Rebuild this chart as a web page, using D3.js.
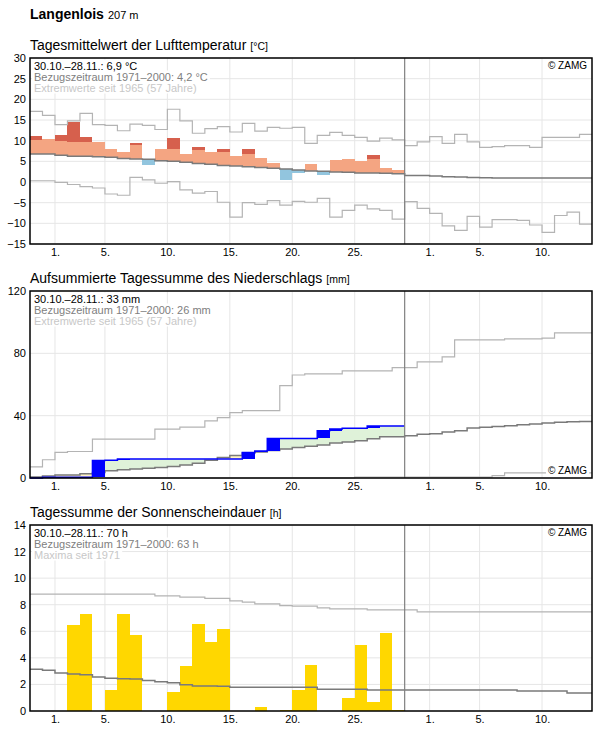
<!DOCTYPE html>
<html lang="de">
<head>
<meta charset="utf-8">
<script src="https://d3js.org/d3.v7.min.js"></script>
<style>
  body { margin: 0; background: #fff; }
  svg { font-family: "Liberation Sans", Arial, sans-serif; display: block; }
</style>
</head>
<body>
<svg width="596" height="729"></svg>
<script>
// 45 Tage ab 30.10. (Index 0) bis 13.12.; Messwerte 30.10.–28.11. (30 Tage)
const tickDays = [2, 6, 11, 16, 21, 26, 32, 36, 41];
const tickLabels = ["1.", "5.", "10.", "15.", "20.", "25.", "1.", "5.", "10."];
const periodEnd = 30;

// Lufttemperatur [°C]
const tempObs = [11.2, 10.5, 11.4, 14.5, 10.9, 9.75, 8.0, 7.25, 9.4, 4.2, 8.0, 10.6, 6.8, 8.5, 7.25,
  8.0, 6.3, 8.0, 5.8, 4.6, 0.5, 2.2, 4.35, 1.7, 5.3, 5.55, 5.1, 6.5, 3.4, 2.9];
const tempUpper = [10.2, 10.3, 10.0, 9.75, 9.75, 9.75, 9.4, 9.1, 9.0, 8.8, 8.45, 8.0, 8.0, 7.75, 7.5,
  7.25, 7.1, 6.8, 6.7, 6.5, 6.3, 6.1, 5.9, 5.8, 5.7, 5.6, 5.55, 5.55, 5.4, 5.3];
const tempMean = [6.77, 6.77, 6.5, 6.25, 6.2, 6.1, 5.97, 5.7, 5.55, 5.5, 5.15, 5.0, 4.75, 4.5, 4.3,
  4.0, 3.9, 3.7, 3.5, 3.3, 3.15, 2.9, 2.66, 2.6, 2.4, 2.35, 2.2, 2.2, 2.1, 2.0,
  1.6, 1.55, 1.45, 1.3, 1.2, 1.1, 1.05, 0.97, 0.97, 0.97, 0.97, 0.97, 0.97, 0.97, 0.97];
const tempMax = [17.1, 16.1, 13.9, 14.8, 16.6, 13.9, 13.7, 12.4, 14.0, 13.7, 12.7, 17.6, 14.8, 11.8, 12.9,
  13.4, 12.1, 14.2, 12.3, 13.2, 13.0, 13.2, 9.35, 11.3, 12.0, 11.3, 10.8, 9.9, 10.6, 10.2,
  8.8, 9.7, 11.0, 9.35, 11.5, 9.7, 8.4, 8.55, 8.8, 8.8, 8.4, 10.8, 10.8, 10.8, 11.5];
const tempMin = [0.3, 0.3, -0.1, -0.6, -1.1, -1.45, -2.9, -3.2, 1.1, 0.5, -0.3, 0.1, -1.9, -2.7, -2.3,
  -4.9, -8.5, -5.0, -5.4, -4.5, -5.6, -4.7, -4.9, -3.95, -8.5, -6.85, -5.6, -6.5, -6.85, -9.0,
  -4.75, -6.4, -7.6, -10.6, -11.7, -8.3, -10.9, -9.1, -9.1, -9.3, -10.4, -12.2, -8.1, -7.3, -10.2];

// Niederschlag, aufsummiert [mm]
const precObs = [0, 0.5, 0.5, 0.5, 0.5, 11.3, 11.4, 12.2, 12.2, 12.2, 12.2, 12.2, 12.2, 12.2, 12.2,
  12.2, 12.2, 16.4, 17.3, 25.3, 25.4, 25.4, 25.4, 30.4, 31.4, 32.0, 32.0, 33.3, 33.4, 33.4];
const precMean = [0.6, 1.3, 1.9, 1.9, 2.8, 3.6, 4.7, 5.3, 5.8, 6.2, 6.8, 7.4, 8.3, 9.4, 11.4,
  13.2, 14.5, 16.0, 16.7, 17.7, 18.6, 19.6, 20.3, 21.2, 22.5, 23.1, 23.9, 25.2, 26.5, 26.5,
  27.1, 28.0, 28.4, 29.5, 30.4, 32.1, 32.5, 33.1, 33.6, 34.2, 34.7, 35.3, 35.7, 36.1, 36.3];
const precMax = [7.1, 11.7, 16.5, 17.0, 17.0, 25.0, 25.0, 25.0, 25.0, 25.0, 31.4, 31.4, 32.7, 32.7, 36.6,
  38.7, 42.0, 43.2, 43.2, 43.2, 59.3, 66.1, 66.8, 66.8, 66.8, 68.7, 68.7, 68.7, 68.7, 70.8,
  70.8, 74.5, 74.5, 77.7, 88.7, 88.7, 88.7, 88.7, 89.3, 89.3, 89.3, 89.8, 93.1, 93.1, 93.1];
const precMin = [0, 0, 0, 0, 0, 0, 0, 0, 0, 0, 0, 0, 0, 0, 0, 0, 0, 0, 0, 0, 0, 0, 0, 0, 0, 0,
  0.6, 0.6, 0.6, 0.6, 0.6, 0.6, 0.6, 0.6, 0.6, 0.6, 0.6, 1.5, 3.3, 3.3, 3.3, 3.3, 3.3, 3.3, 3.3];

// Sonnenscheindauer [h]
const sunObs = [0, 0, 0, 6.5, 7.3, 0, 1.6, 7.3, 5.7, 0, 0, 1.4, 3.35, 6.55, 5.2,
  6.2, 0, 0, 0.3, 0, 0.1, 1.6, 3.5, 0, 0, 1.0, 5.0, 0.7, 5.9, 0.1];
const sunMean = [3.14, 3.06, 2.86, 2.78, 2.72, 2.56, 2.46, 2.42, 2.4, 2.3, 2.2, 2.12, 1.98, 1.88, 1.88,
  1.86, 1.79, 1.79, 1.79, 1.79, 1.79, 1.79, 1.79, 1.63, 1.63, 1.63, 1.63, 1.58, 1.58, 1.58,
  1.58, 1.58, 1.58, 1.58, 1.58, 1.58, 1.58, 1.58, 1.58, 1.51, 1.51, 1.51, 1.51, 1.36, 1.36];
const sunMax = [8.79, 8.79, 8.79, 8.79, 8.79, 8.79, 8.79, 8.79, 8.79, 8.79, 8.67, 8.67, 8.57, 8.57, 8.47,
  8.47, 8.29, 8.19, 8.06, 8.06, 7.93, 7.89, 7.89, 7.76, 7.69, 7.69, 7.69, 7.61, 7.61, 7.61,
  7.61, 7.46, 7.46, 7.46, 7.46, 7.46, 7.46, 7.46, 7.46, 7.46, 7.46, 7.46, 7.46, 7.46, 7.46];

const svg = d3.select("svg");
const x = d3.scaleLinear().domain([0, 45]).range([30, 592]);
const w = x(1) - x(0);

// header
const head = svg.append("text").attr("x", 30).attr("y", 18.5)
  .attr("font-size", 14).attr("font-weight", "bold").text("Langenlois");
head.append("tspan").attr("font-size", 11).attr("font-weight", "normal").attr("dx", 4).text("207 m");

function stepPath(values, y) {
  const pts = values.map((v, i) => [x(i), y(v)]);
  pts.push([x(values.length), y(values[values.length - 1])]);
  return d3.line().curve(d3.curveStepAfter)(pts);
}

// per-day rects between two series, only for days where keep(i)
function dayRects(g, n, keep, lo, hi, color) {
  const rows = d3.range(n).filter(keep);
  g.append("g").attr("shape-rendering", "crispEdges")
    .selectAll("rect").data(rows).join("rect")
    .attr("x", i => x(i)).attr("width", w)
    .attr("y", i => Math.min(lo(i), hi(i)))
    .attr("height", i => Math.abs(lo(i) - hi(i)))
    .attr("fill", color);
}

function panel(cfg) {
  const y = d3.scaleLinear().domain(cfg.domain).range([cfg.bottom, cfg.top]);
  const g = svg.append("g");
  const title = g.append("text").attr("x", 30).attr("y", cfg.top - 8.5)
    .attr("font-size", 14).text(cfg.title);
  title.append("tspan").attr("font-size", 10.5).attr("dx", 4).text(cfg.unit);

  const grid = g.append("g").attr("stroke", "#e6e6e6").attr("stroke-width", 1);
  grid.selectAll(".h").data(cfg.yTicks).join("line")
    .attr("x1", x(0)).attr("x2", x(45)).attr("y1", d => y(d)).attr("y2", d => y(d));
  grid.selectAll(".v").data(tickDays).join("line")
    .attr("x1", d => x(d)).attr("x2", d => x(d)).attr("y1", cfg.top).attr("y2", cfg.bottom);

  const data = g.append("g");
  const over = g.append("g");

  g.append("g").attr("transform", `translate(${x(0)},0)`)
    .call(d3.axisLeft(y).tickValues(cfg.yTicks).tickSize(0).tickPadding(4))
    .call(a => a.select(".domain").remove())
    .call(a => a.selectAll("text").attr("font-size", 11).attr("fill", "#000")
      .attr("font-family", "Liberation Sans, Arial, sans-serif"));
  g.append("g").attr("transform", `translate(0,${cfg.bottom})`)
    .call(d3.axisBottom(x).tickValues(tickDays).tickFormat((d, i) => tickLabels[i]).tickSize(0).tickPadding(4))
    .call(a => a.select(".domain").remove())
    .call(a => a.selectAll("text").attr("font-size", 11).attr("fill", "#000")
      .attr("font-family", "Liberation Sans, Arial, sans-serif"));

  return { g, y, data, over, cfg };
}

function finish(p, lines, zamgTop) {
  const { g, cfg } = p;
  g.append("line").attr("x1", x(periodEnd)).attr("x2", x(periodEnd))
    .attr("y1", cfg.top).attr("y2", cfg.bottom).attr("stroke", "#808080").attr("stroke-width", 1.2);
  g.append("rect").attr("x", x(0)).attr("y", cfg.top).attr("width", x(45) - x(0))
    .attr("height", cfg.bottom - cfg.top).attr("fill", "none").attr("stroke", "#000").attr("stroke-width", 1.5);
  const colors = ["#000", "#808080", "#c8c8c8"];
  const zy = zamgTop ? cfg.top + 11 : cfg.bottom - 4;
  const items = lines.map((s, i) => ({ s, c: colors[i], tx: 34, ty: cfg.top + 11.5 + i * 11, a: "start", fs: 11 }));
  items.push({ s: "\u00a9 ZAMG", c: "#000", tx: 587, ty: zy, a: "end", fs: 10 });
  const boxes = g.append("g");
  const texts = g.append("g");
  items.forEach(it => {
    const t = texts.append("text").attr("x", it.tx).attr("y", it.ty).attr("font-size", it.fs)
      .attr("fill", it.c).attr("text-anchor", it.a).text(it.s);
    const b = t.node().getBBox();
    boxes.append("rect").attr("x", b.x - 2).attr("y", b.y)
      .attr("width", b.width + 4).attr("height", b.height).attr("fill", "#fff");
  });
}

// ---- Temperatur ----
const pT = panel({ top: 58, bottom: 244, domain: [-15, 30], yTicks: [-15, -10, -5, 0, 5, 10, 15, 20, 25, 30],
  title: "Tagesmittelwert der Lufttemperatur", unit: "[°C]" });
{
  const y = pT.y, n = tempObs.length;
  dayRects(pT.data, n, i => tempObs[i] > tempMean[i],
    i => y(tempMean[i]), i => y(Math.min(tempObs[i], tempUpper[i])), "#f4a582");
  dayRects(pT.data, n, i => tempObs[i] > tempUpper[i],
    i => y(tempUpper[i]), i => y(tempObs[i]), "#d6604d");
  dayRects(pT.data, n, i => tempObs[i] < tempMean[i],
    i => y(tempMean[i]), i => y(tempObs[i]), "#92c5de");
  [[tempMax, "#b4b4b4", 1.2], [tempMin, "#b4b4b4", 1.2], [tempMean, "#7a7a7a", 1.5]].forEach(([v, c, sw]) =>
    pT.over.append("path").attr("d", stepPath(v, y)).attr("fill", "none").attr("stroke", c).attr("stroke-width", sw));
}
finish(pT, ["30.10.–28.11.: 6,9 °C", "Bezugszeitraum 1971–2000: 4,2 °C", "Extremwerte seit 1965 (57 Jahre)"], true);

// ---- Niederschlag ----
const pP = panel({ top: 291, bottom: 478, domain: [0, 120], yTicks: [0, 40, 80, 120],
  title: "Aufsummierte Tagessumme des Niederschlags", unit: "[mm]" });
{
  const y = pP.y, n = precObs.length;
  dayRects(pP.data, n, i => precObs[i] >= precMean[i],
    i => y(precMean[i]), i => y(precObs[i]), "#dff2d9");
  dayRects(pP.data, n, i => precObs[i] < precMean[i],
    i => y(precMean[i]), i => y(precObs[i]), "#fff3c4");
  [[precMax, "#b4b4b4", 1.2], [precMin, "#b4b4b4", 1.2], [precMean, "#7a7a7a", 1.5]].forEach(([v, c, sw]) =>
    pP.data.append("path").attr("d", stepPath(v, y)).attr("fill", "none").attr("stroke", c).attr("stroke-width", sw));
  dayRects(pP.over, n, i => i > 0 && precObs[i] - precObs[i - 1] > 0.3,
    i => y(precObs[i - 1]), i => y(precObs[i]), "#0000ff");
  pP.over.append("path").attr("d", stepPath(precObs, y)).attr("fill", "none")
    .attr("stroke", "#0000ff").attr("stroke-width", 1.5);
}
finish(pP, ["30.10.–28.11.: 33 mm", "Bezugszeitraum 1971–2000: 26 mm", "Extremwerte seit 1965 (57 Jahre)"], false);

// ---- Sonnenschein ----
const pS = panel({ top: 525, bottom: 711, domain: [0, 14], yTicks: [0, 2, 4, 6, 8, 10, 12, 14],
  title: "Tagessumme der Sonnenscheindauer", unit: "[h]" });
{
  const y = pS.y, n = sunObs.length;
  dayRects(pS.data, n, i => sunObs[i] > 0, i => y(0), i => y(sunObs[i]), "#ffd700");
  [[sunMax, "#b4b4b4", 1.2], [sunMean, "#7a7a7a", 1.5]].forEach(([v, c, sw]) =>
    pS.over.append("path").attr("d", stepPath(v, y)).attr("fill", "none").attr("stroke", c).attr("stroke-width", sw));
}
finish(pS, ["30.10.–28.11.: 70 h", "Bezugszeitraum 1971–2000: 63 h", "Maxima seit 1971"], true);
</script>
</body>
</html>
